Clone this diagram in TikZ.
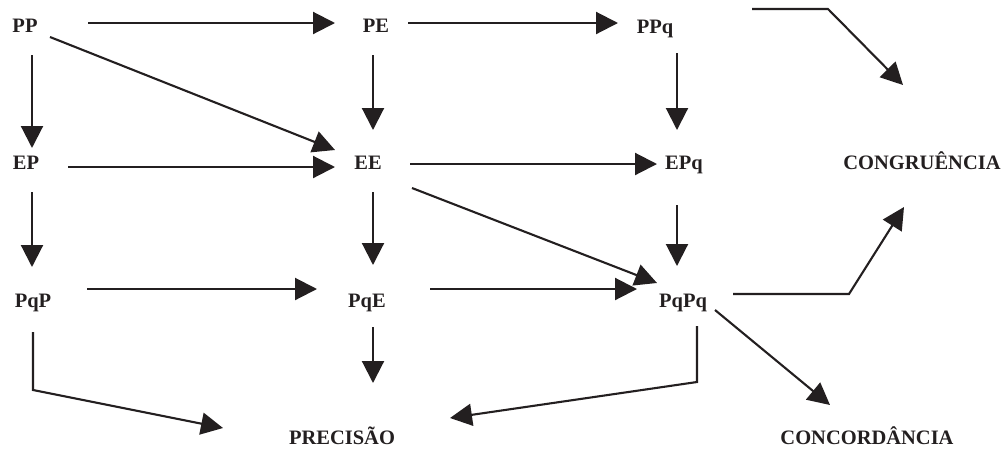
\documentclass[tikz,border=0pt]{standalone}
\usepackage{fontspec}
\setmainfont{Liberation Serif}
\usetikzlibrary{arrows.meta}
\definecolor{ink}{HTML}{231F20}
\tikzset{
  lbl/.style={font=\fontsize{20.5}{22}\selectfont\bfseries, text=ink,
    inner sep=0pt, text height=13.5pt, text depth=0pt, anchor=center},
  arr/.style={draw=ink, line width=2.1pt, line join=miter,
    -{Triangle[length=22pt,width=22pt]}},
}
\begin{document}
\begin{tikzpicture}[x=1pt,y=-1pt]
\useasboundingbox (0,0) rectangle (1008,448);

% states
\node[lbl] (PP)   at (25,26)  {PP};
\node[lbl] (PE)   at (376,26) {PE};
\node[lbl] (PPq)  at (655,27) {PPq};
\node[lbl] (EP)   at (26,163) {EP};
\node[lbl] (EE)   at (368,163) {EE};
\node[lbl] (EPq)  at (684,163) {EPq};
\node[lbl] (PqP)  at (33,301) {PqP};
\node[lbl] (PqE)  at (367,301) {PqE};
\node[lbl] (PqPq) at (683,301) {PqPq};

% outcomes
\node[lbl] (CON)  at (922,163) {CONGRUÊNCIA};
\node[lbl] (PRE)  at (342,438) {PRECISÃO};
\node[lbl] (CONC) at (867,438) {CONCORDÂNCIA};

% free-standing input to CONGRUÊNCIA
\coordinate (trin) at (752,9);

% first row
\draw[arr] ([shift={(63,-3)}]PP.center) -- ([shift={(-41,-3)}]PE.center);
\draw[arr] ([shift={(32,-3)}]PE.center) -- ([shift={(-37,-4)}]PPq.center);
\draw[arr] (trin) -- ++(76,0) -- ([shift={(-19,-78)}]CON.center);

% first row to second row
\draw[arr] ([shift={(25,11)}]PP.center) -- ([shift={(-33,-13)}]EE.center);
\draw[arr] ([shift={(7,29)}]PP.center) -- ([shift={(6,-15)}]EP.center);
\draw[arr] ([shift={(-3,29)}]PE.center) -- ([shift={(5,-33)}]EE.center);
\draw[arr] ([shift={(22,26)}]PPq.center) -- ([shift={(-7,-33)}]EPq.center);

% second row
\draw[arr] ([shift={(42,4)}]EP.center) -- ([shift={(-33,4)}]EE.center);
\draw[arr] ([shift={(42,1)}]EE.center) -- ([shift={(-27,1)}]EPq.center);

% second row to third row
\draw[arr] ([shift={(44,25)}]EE.center) -- ([shift={(-26,-18)}]PqPq.center);
\draw[arr] ([shift={(6,29)}]EP.center) -- ([shift={(-1,-34)}]PqP.center);
\draw[arr] ([shift={(5,29)}]EE.center) -- ([shift={(6,-36)}]PqE.center);
\draw[arr] ([shift={(-7,42)}]EPq.center) -- ([shift={(-6,-35)}]PqPq.center);

% third row
\draw[arr] ([shift={(54,-12)}]PqP.center) -- ([shift={(-50,-12)}]PqE.center);
\draw[arr] ([shift={(63,-12)}]PqE.center) -- ([shift={(-46,-12)}]PqPq.center);

% outcomes
\draw[arr] ([shift={(50,-7)}]PqPq.center) -- ++(116,0) -- ([shift={(-18,44)}]CON.center);
\draw[arr] ([shift={(32,9)}]PqPq.center) -- ([shift={(-37,-33)}]CONC.center);
\draw[arr] ([shift={(14,25)}]PqPq.center) -- ++(0,56) -- ([shift={(108,-20)}]PRE.center);
\draw[arr] ([shift={(6,26)}]PqE.center) -- ([shift={(31,-55)}]PRE.center);
\draw[arr] ([shift={(0,31)}]PqP.center) -- ++(0,58) -- ([shift={(-119,-10)}]PRE.center);
\end{tikzpicture}
\end{document}
